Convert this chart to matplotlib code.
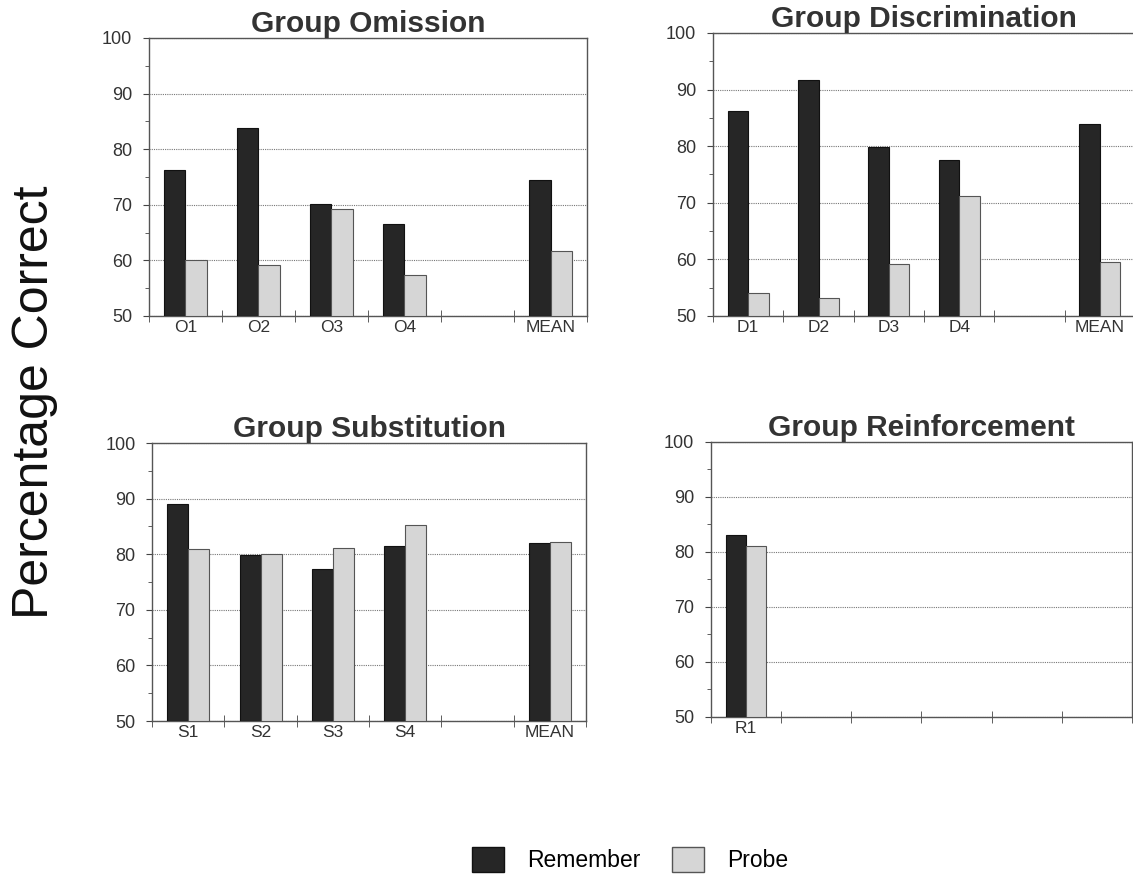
import matplotlib
matplotlib.use("Agg")
import matplotlib.pyplot as plt
from matplotlib.patches import Patch
import numpy as np

plt.rcParams['font.family'] = ['Liberation Sans', 'DejaVu Sans']

# values
omission_labels = ["O1", "O2", "O3", "O4", "", "MEAN"]
omission_remember = [76.2, 83.8, 70.1, 66.6, None, 74.4]
omission_probe = [60.0, 59.1, 69.2, 57.3, None, 61.7]

discrim_labels = ["D1", "D2", "D3", "D4", "", "MEAN"]
discrim_remember = [86.3, 91.7, 79.8, 77.5, None, 83.9]
discrim_probe = [54.0, 53.1, 59.2, 71.2, None, 59.5]

subst_labels = ["S1", "S2", "S3", "S4", "", "MEAN"]
subst_remember = [89.0, 79.8, 77.4, 81.4, None, 82.1]
subst_probe = [81.0, 80.1, 81.2, 85.2, None, 82.2]

reinf_labels = ["R1", "", "", "", "", ""]
reinf_remember = [83.1, None, None, None, None, None]
reinf_probe = [81.0, None, None, None, None, None]

dark = "#262626"
light = "#d6d6d6"

fig = plt.figure(figsize=(11.33, 8.75), dpi=100)
fig.patch.set_facecolor("white")


def panel(rect, title, labels, rem, probe):
    ax = fig.add_axes(rect)
    n = len(labels)
    x = np.arange(n) + 0.5
    w = 0.29
    for i in range(n):
        if rem[i] is not None:
            ax.bar(x[i] - w / 2, rem[i] - 50, w, bottom=50, color=dark,
                   edgecolor="#111111", linewidth=0.8, zorder=3)
        if probe[i] is not None:
            ax.bar(x[i] + w / 2, probe[i] - 50, w, bottom=50, color=light,
                   edgecolor="#555555", linewidth=0.8, zorder=3)
    ax.set_xlim(0, n)
    ax.set_ylim(50, 100)
    ax.set_yticks([50, 60, 70, 80, 90, 100])
    ax.set_yticks([55, 65, 75, 85, 95], minor=True)
    ax.set_xticks(x)
    ax.set_xticklabels(labels)
    ax.set_xticks(np.arange(n + 1), minor=True)
    ax.tick_params(axis="x", which="major", length=0, pad=3,
                   labelsize=12.5, labelcolor="#333333")
    ax.tick_params(axis="x", which="minor", direction="inout", length=8,
                   color="#444444")
    ax.tick_params(axis="y", which="major", direction="out", length=4,
                   pad=8, labelsize=13, labelcolor="#333333", color="#444444")
    ax.tick_params(axis="y", which="minor", direction="out", length=3,
                   color="#444444")
    ax.yaxis.grid(True, linestyle=(0, (1, 1)), color="#777777",
                  linewidth=0.8, zorder=0)
    for s in ax.spines.values():
        s.set_color("#555555")
        s.set_linewidth(1.0)
    ax.set_title(title, fontsize=21.5, fontweight="bold", color="#333333",
                 pad=1)
    return ax


panel([0.1315, 0.6389, 0.3866, 0.3177], "Group Omission",
      omission_labels, omission_remember, omission_probe)
panel([0.6293, 0.6389, 0.3725, 0.3234], "Group Discrimination",
      discrim_labels, discrim_remember, discrim_probe)
panel([0.1342, 0.176, 0.383, 0.3177], "Group Substitution",
      subst_labels, subst_remember, subst_probe)
panel([0.6275, 0.1806, 0.3716, 0.3143], "Group Reinforcement",
      reinf_labels, reinf_remember, reinf_probe)

fig.text(0.031, 0.54, "Percentage Correct", rotation=90, fontsize=36,
         ha="center", va="center", color="#111111")

handles = [Patch(facecolor=dark, edgecolor="#111111", label="Remember"),
           Patch(facecolor=light, edgecolor="#555555", label="Probe")]
fig.legend(handles=handles, loc="center", bbox_to_anchor=(0.556, 0.018),
           ncol=2, frameon=False, fontsize=16.5, handlelength=1.4,
           handleheight=1.3, columnspacing=1.4, handletextpad=1.0)

fig.savefig("out.png", dpi=100)
